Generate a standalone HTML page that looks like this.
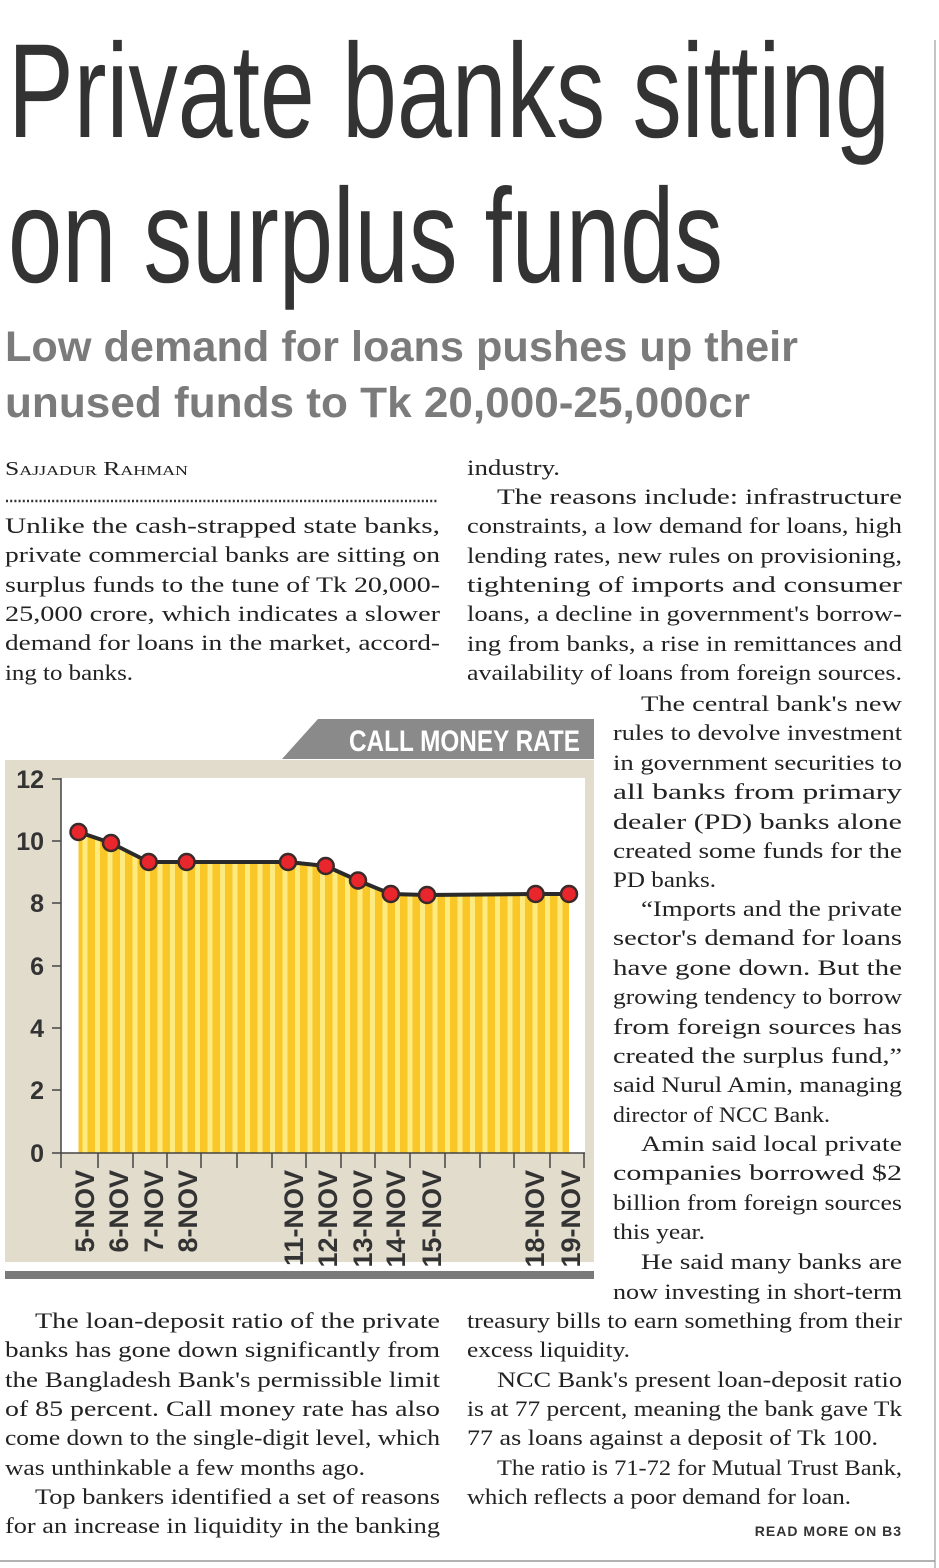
<!DOCTYPE html>
<html><head><meta charset="utf-8"><style>
html,body{margin:0;padding:0;background:#fff;}
svg{display:block;}
.b{font-family:"Liberation Serif",serif;font-size:22px;fill:#222;}
</style></head><body>
<svg width="939" height="1568" viewBox="0 0 939 1568" xmlns="http://www.w3.org/2000/svg">
<defs>
<pattern id="st" x="0" y="0" width="12.5" height="10" patternUnits="userSpaceOnUse">
<rect x="0" y="0" width="12.5" height="10" fill="#f9c728"/>
<rect x="7.5" y="0" width="5" height="10" fill="#fdeb80"/>
</pattern>
</defs>
<line x1="935" y1="40" x2="935" y2="1568" stroke="#c4c4c4" stroke-width="2"/>
<line x1="0" y1="1561" x2="935" y2="1561" stroke="#999" stroke-width="1.5"/>
<g font-family="'Liberation Sans Narrow','Liberation Sans',sans-serif" fill="#333">
<text x="8" y="137" font-size="134" textLength="882" lengthAdjust="spacingAndGlyphs">Private banks sitting</text>
<text x="8" y="282" font-size="134" textLength="715" lengthAdjust="spacingAndGlyphs">on surplus funds</text>
</g>
<g font-family="'Liberation Sans Narrow','Liberation Sans',sans-serif" font-weight="bold" fill="#7b7b7b">
<text x="5" y="361" font-size="43" textLength="793" lengthAdjust="spacingAndGlyphs">Low demand for loans pushes up their</text>
<text x="5" y="417" font-size="43" textLength="745" lengthAdjust="spacingAndGlyphs">unused funds to Tk 20,000-25,000cr</text>
</g>
<text x="5" y="475" font-family="'Liberation Serif',serif" font-size="20" font-variant="small-caps" fill="#222" textLength="183" lengthAdjust="spacingAndGlyphs">Sajjadur Rahman</text>
<line x1="6" y1="501" x2="438" y2="501" stroke="#333" stroke-width="2.5" stroke-dasharray="2 2.2"/>

<g class="b">
<text x="5" y="533" textLength="435" lengthAdjust="spacingAndGlyphs">Unlike the cash-strapped state banks,</text>
<text x="5" y="562" textLength="435" lengthAdjust="spacingAndGlyphs">private commercial banks are sitting on</text>
<text x="5" y="592" textLength="435" lengthAdjust="spacingAndGlyphs">surplus funds to the tune of Tk 20,000-</text>
<text x="5" y="621" textLength="435" lengthAdjust="spacingAndGlyphs">25,000 crore, which indicates a slower</text>
<text x="5" y="650" textLength="435" lengthAdjust="spacingAndGlyphs">demand for loans in the market, accord-</text>
<text x="5" y="680" textLength="128" lengthAdjust="spacingAndGlyphs">ing to banks.</text>

<text x="35" y="1328" textLength="405" lengthAdjust="spacingAndGlyphs">The loan-deposit ratio of the private</text>
<text x="5" y="1357" textLength="435" lengthAdjust="spacingAndGlyphs">banks has gone down significantly from</text>
<text x="5" y="1387" textLength="435" lengthAdjust="spacingAndGlyphs">the Bangladesh Bank's permissible limit</text>
<text x="5" y="1416" textLength="435" lengthAdjust="spacingAndGlyphs">of 85 percent. Call money rate has also</text>
<text x="5" y="1445" textLength="435" lengthAdjust="spacingAndGlyphs">come down to the single-digit level, which</text>
<text x="5" y="1475" textLength="360" lengthAdjust="spacingAndGlyphs">was unthinkable a few months ago.</text>
<text x="35" y="1504" textLength="405" lengthAdjust="spacingAndGlyphs">Top bankers identified a set of reasons</text>
<text x="5" y="1533" textLength="435" lengthAdjust="spacingAndGlyphs">for an increase in liquidity in the banking</text>

<text x="467" y="475" textLength="93" lengthAdjust="spacingAndGlyphs">industry.</text>
<text x="497" y="504" textLength="405" lengthAdjust="spacingAndGlyphs">The reasons include: infrastructure</text>
<text x="467" y="533" textLength="435" lengthAdjust="spacingAndGlyphs">constraints, a low demand for loans, high</text>
<text x="467" y="563" textLength="435" lengthAdjust="spacingAndGlyphs">lending rates, new rules on provisioning,</text>
<text x="467" y="592" textLength="435" lengthAdjust="spacingAndGlyphs">tightening of imports and consumer</text>
<text x="467" y="621" textLength="435" lengthAdjust="spacingAndGlyphs">loans, a decline in government's borrow-</text>
<text x="467" y="651" textLength="435" lengthAdjust="spacingAndGlyphs">ing from banks, a rise in remittances and</text>
<text x="467" y="680" textLength="435" lengthAdjust="spacingAndGlyphs">availability of loans from foreign sources.</text>

<text x="641" y="711" textLength="261" lengthAdjust="spacingAndGlyphs">The central bank's new</text>
<text x="613" y="740" textLength="289" lengthAdjust="spacingAndGlyphs">rules to devolve investment</text>
<text x="613" y="770" textLength="289" lengthAdjust="spacingAndGlyphs">in government securities to</text>
<text x="613" y="799" textLength="289" lengthAdjust="spacingAndGlyphs">all banks from primary</text>
<text x="613" y="829" textLength="289" lengthAdjust="spacingAndGlyphs">dealer (PD) banks alone</text>
<text x="613" y="858" textLength="289" lengthAdjust="spacingAndGlyphs">created some funds for the</text>
<text x="613" y="887" textLength="103" lengthAdjust="spacingAndGlyphs">PD banks.</text>
<text x="641" y="916" textLength="261" lengthAdjust="spacingAndGlyphs">“Imports and the private</text>
<text x="613" y="945" textLength="289" lengthAdjust="spacingAndGlyphs">sector's demand for loans</text>
<text x="613" y="975" textLength="289" lengthAdjust="spacingAndGlyphs">have gone down. But the</text>
<text x="613" y="1004" textLength="289" lengthAdjust="spacingAndGlyphs">growing tendency to borrow</text>
<text x="613" y="1034" textLength="289" lengthAdjust="spacingAndGlyphs">from foreign sources has</text>
<text x="613" y="1063" textLength="289" lengthAdjust="spacingAndGlyphs">created the surplus fund,”</text>
<text x="613" y="1092" textLength="289" lengthAdjust="spacingAndGlyphs">said Nurul Amin, managing</text>
<text x="613" y="1122" textLength="217" lengthAdjust="spacingAndGlyphs">director of NCC Bank.</text>
<text x="641" y="1151" textLength="261" lengthAdjust="spacingAndGlyphs">Amin said local private</text>
<text x="613" y="1180" textLength="289" lengthAdjust="spacingAndGlyphs">companies borrowed $2</text>
<text x="613" y="1210" textLength="289" lengthAdjust="spacingAndGlyphs">billion from foreign sources</text>
<text x="613" y="1239" textLength="92" lengthAdjust="spacingAndGlyphs">this year.</text>
<text x="641" y="1269" textLength="261" lengthAdjust="spacingAndGlyphs">He said many banks are</text>
<text x="613" y="1299" textLength="289" lengthAdjust="spacingAndGlyphs">now investing in short-term</text>

<text x="467" y="1328" textLength="435" lengthAdjust="spacingAndGlyphs">treasury bills to earn something from their</text>
<text x="467" y="1357" textLength="163" lengthAdjust="spacingAndGlyphs">excess liquidity.</text>
<text x="497" y="1387" textLength="405" lengthAdjust="spacingAndGlyphs">NCC Bank's present loan-deposit ratio</text>
<text x="467" y="1416" textLength="435" lengthAdjust="spacingAndGlyphs">is at 77 percent, meaning the bank gave Tk</text>
<text x="467" y="1445" textLength="411" lengthAdjust="spacingAndGlyphs">77 as loans against a deposit of Tk 100.</text>
<text x="497" y="1475" textLength="405" lengthAdjust="spacingAndGlyphs">The ratio is 71-72 for Mutual Trust Bank,</text>
<text x="467" y="1504" textLength="384" lengthAdjust="spacingAndGlyphs">which reflects a poor demand for loan.</text>
</g>
<text x="902" y="1536" text-anchor="end" font-family="'Liberation Sans',sans-serif" font-weight="bold" font-size="14" fill="#333" letter-spacing="1">READ MORE ON B3</text>

<polygon points="282,759 318,719 594,719 594,759" fill="#8a8a8a"/>
<text x="580" y="751" text-anchor="end" font-family="'Liberation Sans Narrow','Liberation Sans',sans-serif" font-weight="bold" font-size="30" fill="#fff" textLength="231" lengthAdjust="spacingAndGlyphs">CALL MONEY RATE</text>
<rect x="5" y="760" width="589" height="502" fill="#e2dccd"/>
<rect x="61" y="778" width="524" height="375" fill="#fff"/>
<polygon points="78.5,832 111,843 148.7,862 186.6,862 288,862 325.7,866 358,880.5 390.8,894 427,895 535.6,894 569,894 569,1153 78.5,1153" fill="url(#st)"/>
<polyline points="78.5,832 111,843 148.7,862 186.6,862 288,862 325.7,866 358,880.5 390.8,894 427,895 535.6,894 569,894" fill="none" stroke="#2a2a2a" stroke-width="4" stroke-linejoin="round"/>
<g fill="#e8262b" stroke="#3a2a2a" stroke-width="2.5">
<circle cx="78.5" cy="832" r="8"/><circle cx="111" cy="843" r="8"/><circle cx="148.7" cy="862" r="8"/><circle cx="186.6" cy="862" r="8"/><circle cx="288" cy="862" r="8"/><circle cx="325.7" cy="866" r="8"/><circle cx="358" cy="880.5" r="8"/><circle cx="390.8" cy="894" r="8"/><circle cx="427" cy="895" r="8"/><circle cx="535.6" cy="894" r="8"/><circle cx="569" cy="894" r="8"/>
</g>
<g stroke="#444" stroke-width="1.5">
<line x1="61" y1="778" x2="61" y2="1153"/>
<line x1="52" y1="779" x2="61" y2="779"/><line x1="52" y1="841" x2="61" y2="841"/><line x1="52" y1="903" x2="61" y2="903"/><line x1="52" y1="966" x2="61" y2="966"/><line x1="52" y1="1028" x2="61" y2="1028"/><line x1="52" y1="1090" x2="61" y2="1090"/>
<line x1="52" y1="1153" x2="585" y2="1153"/>
<line x1="61" y1="1153" x2="61" y2="1168"/><line x1="98" y1="1153" x2="98" y2="1168"/><line x1="133" y1="1153" x2="133" y2="1168"/><line x1="167" y1="1153" x2="167" y2="1168"/><line x1="201" y1="1153" x2="201" y2="1168"/><line x1="237" y1="1153" x2="237" y2="1168"/><line x1="272" y1="1153" x2="272" y2="1168"/><line x1="306" y1="1153" x2="306" y2="1168"/><line x1="341" y1="1153" x2="341" y2="1168"/><line x1="375" y1="1153" x2="375" y2="1168"/><line x1="410" y1="1153" x2="410" y2="1168"/><line x1="445" y1="1153" x2="445" y2="1168"/><line x1="480" y1="1153" x2="480" y2="1168"/><line x1="514" y1="1153" x2="514" y2="1168"/><line x1="550" y1="1153" x2="550" y2="1168"/><line x1="584" y1="1153" x2="584" y2="1168"/>
</g>
<g font-family="'Liberation Sans Narrow','Liberation Sans',sans-serif" font-weight="bold" font-size="25" fill="#333" text-anchor="end">
<text x="44" y="788">12</text><text x="44" y="850">10</text><text x="44" y="912">8</text><text x="44" y="975">6</text><text x="44" y="1037">4</text><text x="44" y="1099">2</text><text x="44" y="1162">0</text>
</g>
<g font-family="'Liberation Sans Narrow','Liberation Sans',sans-serif" font-weight="bold" font-size="27" fill="#333" text-anchor="end">
<text transform="translate(94,1170) rotate(-90)">5-NOV</text>
<text transform="translate(128,1170) rotate(-90)">6-NOV</text>
<text transform="translate(163,1170) rotate(-90)">7-NOV</text>
<text transform="translate(197,1170) rotate(-90)">8-NOV</text>
<text transform="translate(303,1170) rotate(-90)">11-NOV</text>
<text transform="translate(337,1170) rotate(-90)">12-NOV</text>
<text transform="translate(372,1170) rotate(-90)">13-NOV</text>
<text transform="translate(405,1170) rotate(-90)">14-NOV</text>
<text transform="translate(441,1170) rotate(-90)">15-NOV</text>
<text transform="translate(544,1170) rotate(-90)">18-NOV</text>
<text transform="translate(580,1170) rotate(-90)">19-NOV</text>
</g>
<rect x="5" y="1271" width="589" height="8" fill="#7a7a7a"/>
</svg>
</body></html>
